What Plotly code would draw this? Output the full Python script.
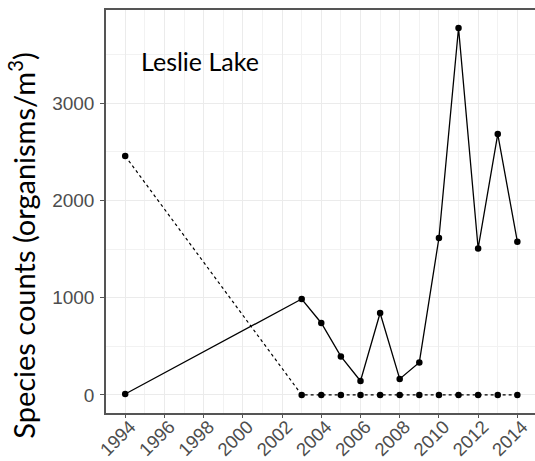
import plotly.graph_objects as go

years_solid = [1994, 2003, 2004, 2005, 2006, 2007, 2008, 2009, 2010, 2011, 2012, 2013, 2014]
counts_solid = [10, 987, 740, 396, 143, 843, 164, 334, 1614, 3775, 1507, 2684, 1576]

years_dotted = [1994, 2003, 2004, 2005, 2006, 2007, 2008, 2009, 2010, 2011, 2012, 2013, 2014]
counts_dotted = [2458, 0, 0, 0, 0, 0, 0, 0, 0, 0, 0, 0, 0]

x_ticks = list(range(1994, 2015, 2))
y_ticks = [0, 1000, 2000, 3000]
lake_name = "Leslie Lake"
y_title = "Species counts (organisms/m<sup>3</sup>)"

fig = go.Figure()
fig.add_trace(go.Scatter(
    x=years_dotted, y=counts_dotted, mode="lines+markers",
    line=dict(color="black", width=1.2, dash="dot"),
    marker=dict(color="black", size=6.5), showlegend=False))
fig.add_trace(go.Scatter(
    x=years_solid, y=counts_solid, mode="lines+markers",
    line=dict(color="black", width=1.3),
    marker=dict(color="black", size=6.5), showlegend=False))

fig.add_annotation(x=0.22, y=3440, xref="paper", yref="y", text=lake_name,
                   showarrow=False, font=dict(family="Lato", size=25, color="black"),
                   xanchor="center", yanchor="middle")

fig.add_annotation(x=(22 - 106) / 429, y=0.415, xref="paper", yref="paper", text=y_title,
                   textangle=-90, showarrow=False,
                   font=dict(family="Lato", size=29, color="black"),
                   xanchor="center", yanchor="middle")

fig.update_layout(
    width=535, height=461,
    margin=dict(l=106, r=0, t=10, b=48),
    paper_bgcolor="white", plot_bgcolor="white",
    font=dict(family="Liberation Sans, Arial", color="#4D4D4D"),
)
fig.update_xaxes(
    range=[1993.02, 2014.9], tickvals=x_ticks, ticktext=[str(v) for v in x_ticks],
    tickangle=-45, tickfont=dict(size=18.5, color="#4D4D4D"),
    showgrid=True, gridcolor="#EBEBEB", gridwidth=1,
    minor=dict(tickvals=list(range(1993, 2016, 2)), showgrid=True, gridcolor="#F2F2F2", gridwidth=1, ticks=""),
    showline=True, linecolor="#555555", linewidth=1.5, mirror=True,
    ticks="outside", ticklen=3, tickcolor="#555555", zeroline=False, automargin=False,
    ticklabelstandoff=-9, ticklabelshift=5,
)
fig.update_yaxes(
    range=[-186, 3960], tickvals=y_ticks, ticktext=[str(v) for v in y_ticks],
    tickfont=dict(size=19, color="#4D4D4D"),
    showgrid=True, gridcolor="#EBEBEB", gridwidth=1,
    minor=dict(tickvals=[500, 1500, 2500, 3500], showgrid=True, gridcolor="#F2F2F2", gridwidth=1, ticks=""),
    showline=True, linecolor="#555555", linewidth=1.5, mirror=False,
    ticks="outside", ticklen=4, tickcolor="#555555", zeroline=False, automargin=False,
    ticklabelstandoff=2,
)

fig.write_html("out.html")
